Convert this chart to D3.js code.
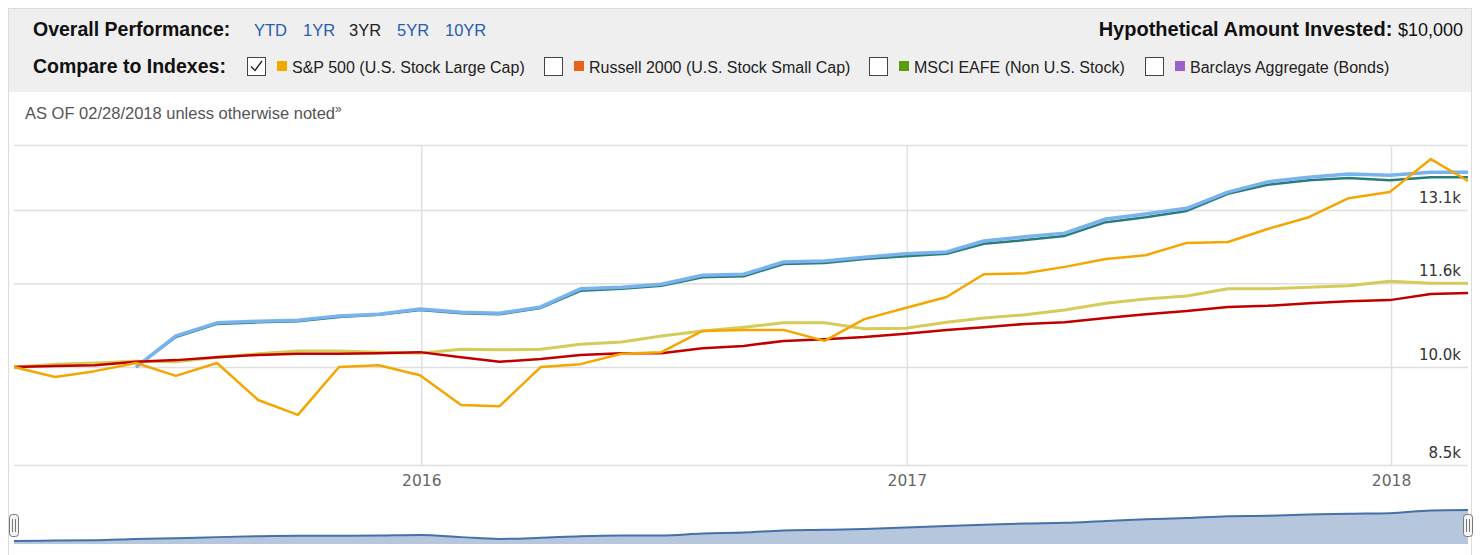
<!DOCTYPE html>
<html>
<head>
<meta charset="utf-8">
<script src="https://cdn.jsdelivr.net/npm/d3@7"></script>
<style>
  body { margin: 0; background: #fff; }
  svg { display: block; font-family: "Liberation Sans", Arial, sans-serif; }
  .axis text { font-family: "DejaVu Sans", sans-serif; }
</style>
</head>
<body>
<svg id="svg-1" width="1483" height="555"></svg>
<script>
// month-end dates, Feb 2015 .. Feb 2018
const months = [
  "2015-02-28","2015-03-31","2015-04-30","2015-05-31","2015-06-30","2015-07-31","2015-08-31",
  "2015-09-30","2015-10-31","2015-11-30","2015-12-31","2016-01-31","2016-02-29","2016-03-31",
  "2016-04-30","2016-05-31","2016-06-30","2016-07-31","2016-08-31","2016-09-30","2016-10-31",
  "2016-11-30","2016-12-31","2017-01-31","2017-02-28","2017-03-31","2017-04-30","2017-05-31",
  "2017-06-30","2017-07-31","2017-08-31","2017-09-30","2017-10-31","2017-11-30","2017-12-31",
  "2018-01-31","2018-02-28"
];

// growth of $10,000
const sp500 = [10000,9830,9930,10070,9850,10070,9450,9210,10000,10030,9860,9370,9350,10000,
  10050,10230,10260,10640,10660,10660,10460,10860,11070,11280,11730,11750,11880,12040,
  12120,12380,12400,12680,12940,13370,13510,14300,13770];
const fundBlue = [null,null,null,10000,10550,10790,10820,10840,10920,10950,11050,10990,10970,
  11090,11440,11470,11530,11710,11730,11980,12000,12080,12150,12190,12420,12510,12590,
  12900,13010,13140,13510,13750,13860,13940,13910,13980,13980];
const fundTeal = [null,null,null,10000,10530,10770,10800,10820,10900,10940,11030,10970,10950,
  11070,11400,11440,11500,11670,11690,11940,11960,12040,12100,12150,12360,12440,12530,
  12830,12940,13080,13470,13680,13790,13840,13790,13860,13860];
const fundYellow = [10000,10050,10070,10100,10090,10170,10230,10280,10280,10260,10240,10310,
  10300,10310,10400,10440,10550,10640,10710,10790,10790,10680,10690,10800,10880,10940,
  11030,11160,11240,11300,11440,11440,11470,11500,11590,11550,11550];
const fundRed = [10000,10020,10030,10090,10120,10170,10210,10230,10230,10240,10260,10170,
  10090,10140,10210,10240,10240,10330,10370,10460,10490,10530,10590,10660,10710,10770,
  10800,10880,10950,11010,11090,11110,11160,11200,11220,11340,11360];

const yTicks = [8450, 10000, 11550, 13100, 14650];
const yTickLabels = ["8.5k", "10.0k", "11.6k", "13.1k", ""];
const yearTicks = ["2016-01-01", "2017-01-01", "2018-01-01"];

const periods = ["YTD", "1YR", "3YR", "5YR", "10YR"];
const activePeriod = "3YR";
const indexes = [
  { name: "S&P 500 (U.S. Stock Large Cap)", color: "#f2a900", checked: true },
  { name: "Russell 2000 (U.S. Stock Small Cap)", color: "#e5641a", checked: false },
  { name: "MSCI EAFE (Non U.S. Stock)", color: "#5b9c0a", checked: false },
  { name: "Barclays Aggregate (Bonds)", color: "#9c62cc", checked: false }
];

const series = [
  { values: fundTeal, color: "#2a7c7a", width: 2.5 },
  { values: fundBlue, color: "#79b3ee", width: 3.5 },
  { values: fundYellow, color: "#d5cb58", width: 3 },
  { values: fundRed, color: "#c00000", width: 2.5 },
  { values: sp500, color: "#f4a600", width: 2.5 }
];

const parse = d3.utcParse("%Y-%m-%d");
const dates = months.map(parse);

const svg = d3.select("#svg-1");

// ---- header ----
svg.append("rect").attr("x", 8.5).attr("y", 8.5).attr("width", 1463).attr("height", 560)
  .attr("fill", "none").attr("stroke", "#dcdcdc");
svg.append("rect").attr("x", 9).attr("y", 9).attr("width", 1462).attr("height", 83)
  .attr("fill", "#efefef");

svg.append("text").attr("x", 33).attr("y", 36).style("font-weight", "bold")
  .style("font-size", "19.5px").attr("fill", "#111").text("Overall Performance:");

const periodX = [254, 303, 349, 397, 445];
svg.selectAll(".period").data(periods).enter().append("text")
  .attr("class", "period")
  .attr("x", (d, i) => periodX[i]).attr("y", 36)
  .style("font-size", "16.5px")
  .attr("fill", d => d === activePeriod ? "#222" : "#2a5bb5")
  .text(d => d);

const amt = svg.append("text").attr("x", 1463).attr("y", 36).attr("text-anchor", "end")
  .attr("fill", "#111");
amt.append("tspan").style("font-weight", "bold").style("font-size", "20px")
  .text("Hypothetical Amount Invested: ");
amt.append("tspan").style("font-size", "18px").text("$10,000");

svg.append("text").attr("x", 33).attr("y", 73).style("font-weight", "bold")
  .style("font-size", "19.5px").attr("fill", "#111").text("Compare to Indexes:");

const boxX = [247, 544, 869, 1145];
const legend = svg.selectAll(".idx").data(indexes).enter().append("g")
  .attr("class", "idx")
  .attr("transform", (d, i) => "translate(" + boxX[i] + ",57)");
legend.append("rect").attr("x", 0.5).attr("y", 0.5).attr("width", 18).attr("height", 18)
  .attr("fill", "#fff").attr("stroke", "#444");
legend.filter(d => d.checked).append("path")
  .attr("d", "M4,9.5 L8,13.5 L15,4").attr("fill", "none").attr("stroke", "#222")
  .attr("stroke-width", 1.3);
legend.append("rect").attr("x", 30).attr("y", 4).attr("width", 10).attr("height", 10)
  .attr("fill", d => d.color);
legend.append("text").attr("x", 45).attr("y", 15.5).style("font-size", "16px")
  .attr("fill", "#222").text(d => d.name);

const asOf = svg.append("text").attr("x", 25).attr("y", 119).attr("fill", "#555")
  .style("font-size", "16.5px");
asOf.append("tspan").text("AS OF 02/28/2018 unless otherwise noted");
asOf.append("tspan").attr("dy", -6).style("font-size", "12px").text("»");

// ---- main chart ----
const x = d3.scaleUtc().domain([dates[0], dates[dates.length - 1]]).range([14, 1468]);
const y = d3.scaleLog().domain([8450, 14650]).range([465, 145]);

const yAxis = svg.append("g").attr("class", "axis")
  .attr("transform", "translate(14,0)")
  .call(d3.axisRight(y).tickValues(yTicks).tickSize(1454)
    .tickFormat((d, i) => yTickLabels[i]));
yAxis.select(".domain").remove();
yAxis.selectAll("line").attr("stroke", "#dedede").attr("stroke-width", 1.5);
yAxis.selectAll("text").attr("x", 1447).attr("dy", -8).attr("text-anchor", "end")
  .attr("fill", "#333").style("font-size", "15px");

const xAxis = svg.append("g").attr("class", "axis")
  .attr("transform", "translate(0,465)")
  .call(d3.axisBottom(x).tickValues(yearTicks.map(parse)).tickSize(-320)
    .tickFormat(d3.utcFormat("%Y")));
xAxis.select(".domain").remove();
xAxis.selectAll("line").attr("stroke", "#e0e0e0").attr("stroke-width", 1.5);
xAxis.selectAll("text").attr("y", 21).attr("dy", null).attr("fill", "#666")
  .style("font-size", "15.5px");

const line = d3.line()
  .defined(d => d != null)
  .x((d, i) => x(dates[i]))
  .y(d => y(d));

svg.selectAll(".series").data(series).enter().append("path")
  .attr("class", "series")
  .attr("fill", "none")
  .attr("stroke", d => d.color)
  .attr("stroke-width", d => d.width)
  .attr("stroke-linejoin", "round")
  .attr("d", d => line(d.values));

// ---- navigator ----
const yNav = d3.scaleLinear().domain(d3.extent(fundRed)).range([541, 510]);
const navArea = d3.area()
  .curve(d3.curveMonotoneX)
  .x((d, i) => x(dates[i]))
  .y0(544)
  .y1(d => yNav(d));
svg.append("path").attr("d", navArea(fundRed)).attr("fill", "#b5c6dd");
svg.append("path").attr("d", navArea.lineY1()(fundRed)).attr("fill", "none")
  .attr("stroke", "#4570a8").attr("stroke-width", 2);

const handles = svg.selectAll(".handle").data([dates[0], dates[dates.length - 1]])
  .enter().append("g").attr("class", "handle")
  .attr("transform", d => "translate(" + Math.round(x(d)) + ",0)");
handles.append("rect").attr("x", -4.5).attr("y", 514.5).attr("width", 9).attr("height", 22)
  .attr("rx", 3).attr("fill", "#f4f4f4").attr("stroke", "#777");
handles.append("path").attr("d", "M-1.5,519 V532 M1.5,519 V532")
  .attr("stroke", "#777").attr("stroke-width", 1);
</script>
</body>
</html>
